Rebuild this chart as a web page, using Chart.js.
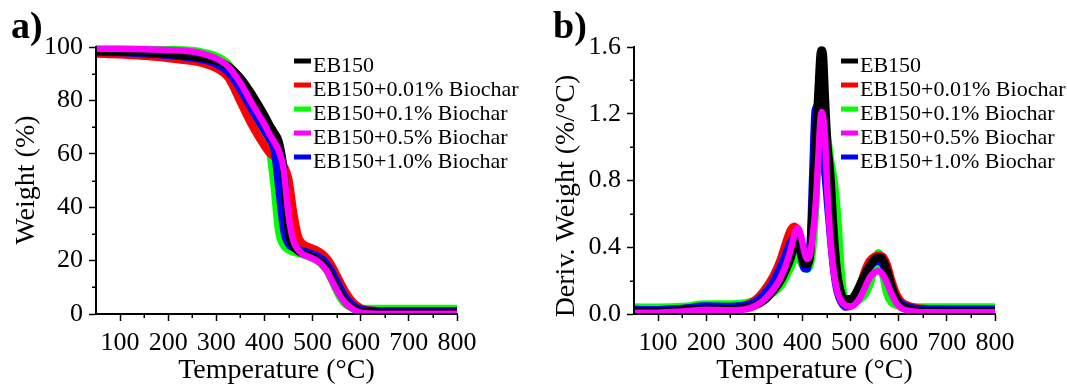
<!DOCTYPE html>
<html><head><meta charset="utf-8">
<script src="https://cdn.jsdelivr.net/npm/chart.js@4.4.1/dist/chart.umd.min.js"></script>
<style>
html,body{margin:0;padding:0;background:#fff;}
#wrap{position:relative;width:1067px;height:388px;overflow:hidden;background:#fff;}
canvas{position:absolute;top:0;}
#ca{left:0;} #cb{left:533px;}
</style></head><body>
<div id="wrap"><canvas id="ca" width="533" height="388"></canvas><canvas id="cb" width="534" height="388"></canvas></div>
<script>
// ---------- DATA ----------
const seriesNames = ['EB150','EB150+0.01% Biochar','EB150+0.1% Biochar','EB150+0.5% Biochar','EB150+1.0% Biochar'];

// Panel a: TGA weight (%)
const tempsA = [50,100,150,200,250,275,300,325,350,375,400,410,420,430,440,450,460,470,480,490,500,510,520,530,540,550,560,570,580,590,600,620,650,700,800];
const weightEB150 = [98.5,98.3,98.0,97.4,96.5,95.9,94.8,92.8,88.5,82,74.5,71,68,64.5,54,31,25.5,23.6,22.7,22.1,21.4,20.4,19,16.8,13.5,10,6.8,4.3,2.7,1.6,1.0,0.7,0.6,0.6,0.6];
const weight001 = [97.5,97.2,96.6,95.8,94.7,93.8,92,88.5,79.5,70.5,63,60.5,59,57.5,55.5,50.5,38,29,26.2,25.2,24.5,23.7,22.5,20.7,18,14.5,11,7.8,5.2,3.4,2.2,1.3,1.1,1.0,1.0];
const weight01 = [99.0,99.0,99.0,98.9,98.6,97.8,96.5,93.5,86,76,67,62.5,49,31,25.8,24.2,23.3,22.8,22.3,21.7,21,20,18.6,16.3,12.8,8.8,5.5,3.5,2.6,2.2,2.0,2.0,2.0,2.0,2.0];
const weight05 = [99.3,99.3,99.2,98.9,98.3,97.3,95.7,92.6,86.5,78.5,71,67.5,64.5,61,54,37,27.5,24,22.3,21.5,20.8,19.8,18.3,16,12.5,9,6,3.8,2.3,1.2,0.5,0.2,0.1,0.1,0.1];
const weight10 = [98.0,97.8,97.4,96.8,95.8,95,93.5,90.5,84,76,68.5,65.5,61.5,46,31,26,24.8,24.2,23.7,23.2,22.6,21.8,20.6,18.8,16,12.5,9,6,4,2.6,1.8,1.4,1.3,1.3,1.3];

// Panel b: DTG (%/°C)
const tempsB = [50,100,150,200,250,280,300,320,340,355,365,375,383,390,397,404,410,416,421,426,430,434,437,440,443,447,452,458,465,472,480,490,500,510,520,530,540,550,558,566,575,585,595,605,620,640,680,740,800];
const derivEB150 = [0.016,0.016,0.022,0.032,0.03,0.036,0.05,0.08,0.14,0.2,0.26,0.33,0.41,0.43,0.36,0.3,0.3,0.35,0.65,0.95,1.18,1.4,1.55,1.58,1.55,1.3,1.02,0.84,0.5,0.25,0.13,0.09,0.09,0.12,0.18,0.24,0.29,0.33,0.34,0.33,0.27,0.17,0.09,0.05,0.03,0.02,0.018,0.016,0.016];
const deriv001 = [0.025,0.024,0.03,0.042,0.042,0.052,0.08,0.14,0.23,0.33,0.42,0.5,0.525,0.5,0.42,0.34,0.31,0.38,0.62,1.0,1.22,1.27,1.28,1.27,1.24,1.12,0.9,0.7,0.45,0.25,0.12,0.06,0.05,0.09,0.17,0.26,0.32,0.345,0.35,0.345,0.3,0.2,0.12,0.075,0.05,0.035,0.03,0.028,0.028];
const deriv01 = [0.04,0.039,0.043,0.058,0.058,0.065,0.08,0.1,0.13,0.17,0.22,0.28,0.33,0.34,0.31,0.28,0.27,0.3,0.4,0.6,0.85,1.05,1.15,1.2,1.2,1.15,1.05,0.92,0.8,0.6,0.25,0.07,0.06,0.075,0.09,0.12,0.18,0.29,0.365,0.26,0.13,0.07,0.055,0.045,0.042,0.041,0.04,0.04,0.04];
const deriv05 = [0.008,0.008,0.015,0.025,0.022,0.027,0.045,0.085,0.15,0.22,0.29,0.38,0.47,0.515,0.47,0.37,0.33,0.36,0.46,0.6,0.78,1.0,1.15,1.21,1.18,1.05,0.72,0.45,0.25,0.14,0.08,0.05,0.045,0.06,0.1,0.16,0.22,0.25,0.256,0.24,0.19,0.12,0.065,0.035,0.02,0.012,0.01,0.01,0.01];
const deriv10 = [0.028,0.027,0.034,0.05,0.047,0.052,0.07,0.12,0.2,0.29,0.36,0.43,0.46,0.43,0.34,0.27,0.27,0.45,0.85,1.22,1.24,1.15,1.06,0.99,0.92,0.82,0.65,0.45,0.25,0.13,0.07,0.04,0.05,0.09,0.16,0.23,0.28,0.31,0.315,0.3,0.24,0.16,0.1,0.065,0.045,0.032,0.029,0.028,0.028];

// Ticks
const xTicks = [100,200,300,400,500,600,700,800];
const xMinorTicks = [150,250,350,450,550,650,750];
const yTicksA = [0,20,40,60,80,100];
const yMinorA = [10,30,50,70,90];
const yTicksB = [0,0.4,0.8,1.2,1.6];
const yTickLabelsB = ['0.0','0.4','0.8','1.2','1.6'];
const yMinorB = [0.2,0.6,1.0,1.4];

// ---------- STYLE ----------
const colors = ['#000000','#ff0000','#00ff00','#ff00ff','#0000ff'];
const widths = [8,8,8,6.5,7];
const orders = [1,3,4,0,2];
const FONT = '"Liberation Serif", "Times New Roman", serif';

function makeDatasets(temps, seriesList){
  return seriesList.map((vals,i)=>({
    label: seriesNames[i],
    data: temps.map((t,k)=>({x:t,y:vals[k]})),
    borderColor: colors[i], backgroundColor: colors[i],
    borderWidth: widths[i], pointRadius: 0, fill:false,
    cubicInterpolationMode:'monotone', borderJoinStyle:'round', borderCapStyle:'butt',
    order: orders[i], clip:{left:0,right:0,top:5,bottom:0}
  }));
}

const decor = {
  id:'decor',
  afterDraw(chart, args, o){
    const ctx = chart.ctx, ca = chart.chartArea;
    const xs = chart.scales.x, ys = chart.scales.y;
    ctx.save();
    ctx.strokeStyle = '#000'; ctx.lineWidth = 1.5;
    o.xMinor.forEach(v=>{ const px = Math.round(xs.getPixelForValue(v))+0.25; ctx.beginPath(); ctx.moveTo(px, ca.bottom); ctx.lineTo(px, ca.bottom+4); ctx.stroke(); });
    o.yMinor.forEach(v=>{ const py = Math.round(ys.getPixelForValue(v))+0.25; ctx.beginPath(); ctx.moveTo(ca.left, py); ctx.lineTo(ca.left-4, py); ctx.stroke(); });
    ctx.restore();
    // y title
    ctx.save();
    ctx.translate(o.yTitleX, o.yTitleY); ctx.rotate(-Math.PI/2);
    ctx.font = '28px ' + FONT; ctx.fillStyle = '#000'; ctx.textAlign = 'center'; ctx.textBaseline = 'middle';
    ctx.fillText(o.yTitle, 0, 0);
    ctx.restore();
    // panel label
    ctx.save();
    ctx.font = 'bold 38px ' + FONT; ctx.fillStyle = '#000'; ctx.textAlign = 'left'; ctx.textBaseline = 'alphabetic';
    ctx.fillText(o.label, o.labelX, o.labelY);
    ctx.restore();
    // legend
    ctx.save();
    ctx.font = '22px ' + FONT; ctx.textAlign = 'left'; ctx.textBaseline = 'alphabetic';
    chart.data.datasets.forEach((d,i)=>{
      const y = o.legY + i*o.legDy;
      ctx.strokeStyle = d.borderColor; ctx.lineWidth = 5;
      ctx.beginPath(); ctx.moveTo(o.legX, y); ctx.lineTo(o.legX+17, y); ctx.stroke();
      ctx.fillStyle = '#000';
      ctx.fillText(d.label, o.legX+19, y+11);
    });
    ctx.restore();
  }
};

function makeChart(id, temps, series, yMin, yMax, yTicks, yLabels, yMinor, axisW, padRight, decorOpts){
  return new Chart(document.getElementById(id), {
    type:'line',
    data:{ datasets: makeDatasets(temps, series) },
    options:{
      responsive:false, animation:false, devicePixelRatio:1, events:[],
      layout:{ padding:{ left:0, top:47, right:padRight, bottom:0 } },
      plugins:{ legend:{display:false}, tooltip:{enabled:false}, decor: decorOpts },
      scales:{
        x:{
          type:'linear', min:50, max:800,
          afterBuildTicks:(s)=>{ s.ticks = xTicks.map(v=>({value:v})); },
          afterFit:(s)=>{ s.height = 74; },
          ticks:{ font:{family:FONT, size:26}, color:'#000', padding:7, maxRotation:0, autoSkip:false, callback:(v)=>String(v) },
          grid:{ display:true, drawOnChartArea:false, drawTicks:true, tickLength:7, tickWidth:1.5, tickColor:'#000' },
          border:{ display:true, color:'#000', width:2, z:1 },
          title:{ display:true, text:'Temperature (°C)', font:{family:FONT, size:28}, color:'#000', padding:{top:0,bottom:1} }
        },
        y:{
          type:'linear', min:yMin, max:yMax,
          afterBuildTicks:(s)=>{ s.ticks = yTicks.map(v=>({value:v})); },
          afterFit:(s)=>{ s.width = axisW; },
          ticks:{ font:{family:FONT, size:26}, color:'#000', padding:6, autoSkip:false,
                  callback:(v,i)=> yLabels ? yLabels[i] : String(v) },
          grid:{ display:true, drawOnChartArea:false, drawTicks:true, tickLength:7, tickWidth:1.5, tickColor:'#000' },
          border:{ display:true, color:'#000', width:2, z:1 },
          title:{ display:false }
        }
      }
    },
    plugins:[decor]
  });
}

makeChart('ca', tempsA, [weightEB150, weight001, weight01, weight05, weight10], 0, 100, yTicksA, null, yMinorA, 96, 76,
  { xMinor:xMinorTicks, yMinor:yMinorA, yTitle:'Weight (%)', yTitleX:27, yTitleY:180, label:'a)', labelX:11, labelY:38, legX:294, legY:61, legDy:24 });
makeChart('cb', tempsB, [derivEB150, deriv001, deriv01, deriv05, deriv10], 0, 1.6, yTicksB, yTickLabelsB, yMinorB, 101, 72,
  { xMinor:xMinorTicks, yMinor:yMinorB, yTitle:'Deriv. Weight (%/°C)', yTitleX:34, yTitleY:196, label:'b)', labelX:20, labelY:38, legX:308, legY:61, legDy:24 });
</script>
</body></html>
